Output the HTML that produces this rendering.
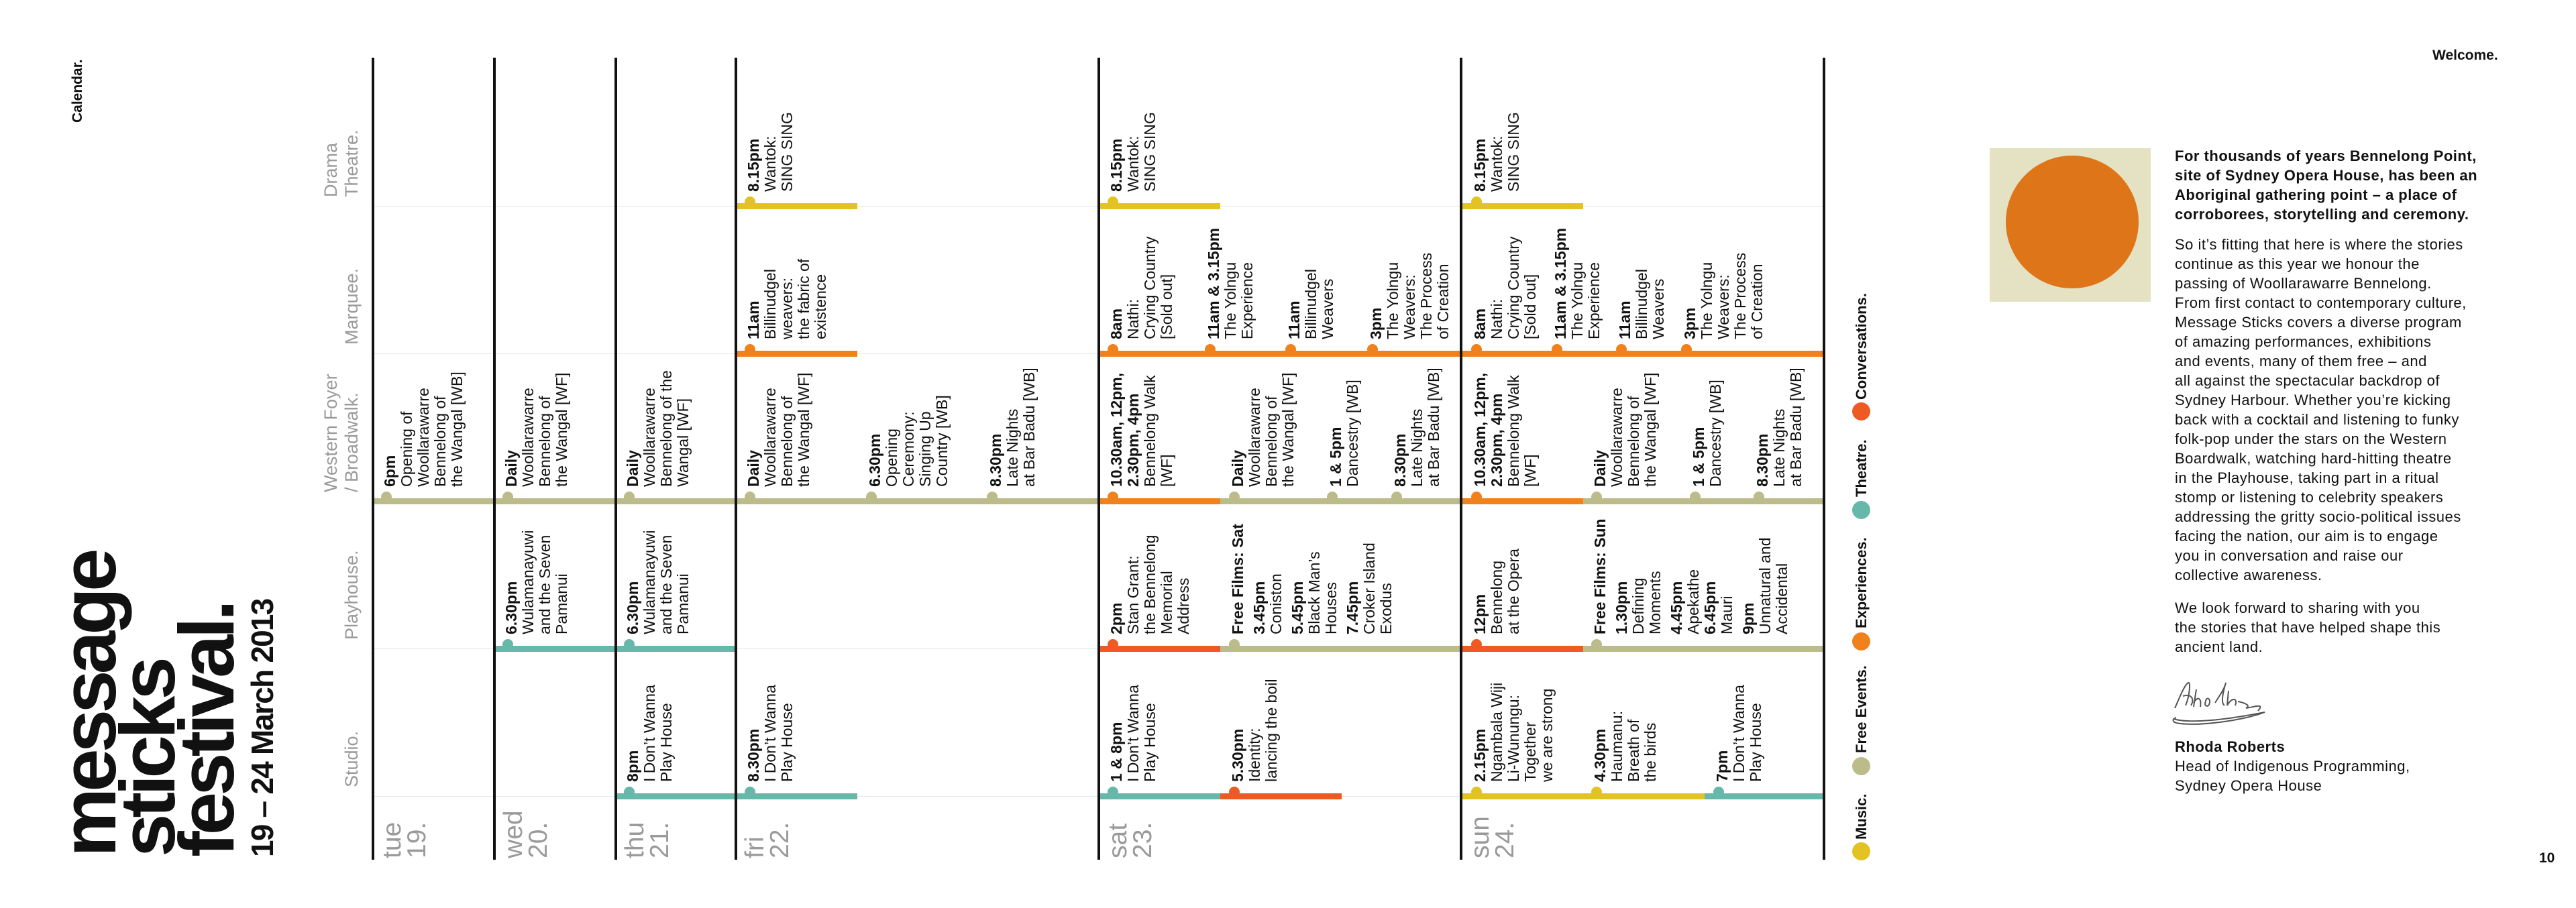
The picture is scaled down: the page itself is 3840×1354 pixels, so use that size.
<!DOCTYPE html>
<html><head><meta charset="utf-8">
<style>
html,body{margin:0;padding:0;background:#fff;}
#page{position:relative;width:3840px;height:1354px;overflow:hidden;background:#fff;font-family:"Liberation Sans",Arial,sans-serif;color:#111;}
.rot{position:absolute;transform-origin:0 0;transform:rotate(-90deg);white-space:nowrap;}
.ev{font-size:23px;line-height:25px;color:#111;}
.ev b{font-weight:bold;}
.gap{display:block;height:7px;}
.venue{font-size:27px;line-height:31px;color:#9a9a9a;}
.dayl{font-size:39px;line-height:37px;color:#9a9a9a;}
.vline{position:absolute;width:4px;background:#111;}
.hline{position:absolute;height:1px;background:#e6e6e6;}
.bar{position:absolute;height:9px;}
.dot{position:absolute;width:16px;height:16px;border-radius:50%;}
.body{position:absolute;left:3242px;width:560px;font-size:22px;line-height:29px;letter-spacing:0.5px;color:#111;white-space:nowrap;}
</style></head>
<body>
<div id="page">
  <div class="rot" style="left:105px;top:183px;font-size:21px;line-height:22px;font-weight:bold;">Calendar.</div>
  <div class="rot" style="left:88px;top:1278px;font-size:116px;line-height:88px;font-weight:bold;letter-spacing:-6px;">message<br>sticks<br>festival.</div>
  <div class="rot" style="left:368px;top:1278px;font-size:46px;line-height:46px;font-weight:bold;letter-spacing:-1.8px;">19 – 24 March 2013</div>

  <div id="grid"></div>

  <div>
    <div class="dot" style="left:2761px;top:1256px;width:27px;height:27px;background:#e3c321"></div>
    <div class="rot" style="left:2763px;top:1252px;font-size:22px;line-height:24px;font-weight:bold;">Music.</div>
    <div class="dot" style="left:2761px;top:1129px;width:27px;height:27px;background:#bcbb8a"></div>
    <div class="rot" style="left:2763px;top:1123px;font-size:22px;line-height:24px;font-weight:bold;">Free Events.</div>
    <div class="dot" style="left:2761px;top:943px;width:27px;height:27px;background:#f0821e"></div>
    <div class="rot" style="left:2763px;top:937px;font-size:22px;line-height:24px;font-weight:bold;">Experiences.</div>
    <div class="dot" style="left:2761px;top:747px;width:27px;height:27px;background:#66b8ab"></div>
    <div class="rot" style="left:2763px;top:741px;font-size:22px;line-height:24px;font-weight:bold;">Theatre.</div>
    <div class="dot" style="left:2761px;top:600px;width:27px;height:27px;background:#ef5a24"></div>
    <div class="rot" style="left:2763px;top:596px;font-size:22px;line-height:24px;font-weight:bold;">Conversations.</div>
  </div>

  <div style="position:absolute;left:3626px;top:72px;font-size:21px;line-height:21px;font-weight:bold;">Welcome.</div>
  <svg style="position:absolute;left:2966px;top:221px;" width="240" height="229">
    <rect width="240" height="229" fill="#e4e2c3"/>
    <ellipse cx="123" cy="110" rx="99" ry="99" fill="#de7619"/>
  </svg>
  <div class="body" style="top:218px;font-weight:bold;">For thousands of years Bennelong Point,<br>site of Sydney Opera House, has been an<br>Aboriginal gathering point – a place of<br>corroborees, storytelling and ceremony.</div>
  <div class="body" style="top:350px;">So it’s fitting that here is where the stories<br>continue as this year we honour the<br>passing of Woollarawarre Bennelong.<br>From first contact to contemporary culture,<br>Message Sticks covers a diverse program<br>of amazing performances, exhibitions<br>and events, many of them free – and<br>all against the spectacular backdrop of<br>Sydney Harbour. Whether you’re kicking<br>back with a cocktail and listening to funky<br>folk-pop under the stars on the Western<br>Boardwalk, watching hard-hitting theatre<br>in the Playhouse, taking part in a ritual<br>stomp or listening to celebrity speakers<br>addressing the gritty socio-political issues<br>facing the nation, our aim is to engage<br>you in conversation and raise our<br>collective awareness.</div>
  <div class="body" style="top:892px;">We look forward to sharing with you<br>the stories that have helped shape this<br>ancient land.</div>
  <svg style="position:absolute;left:3236px;top:1008px;" width="160" height="80" fill="none" stroke="#555" stroke-width="2">
    <path d="M6 48 C14 30 20 14 26 10 C30 8 28 30 22 44 M18 30 C30 26 36 34 30 44 M38 20 L34 46 M34 40 C40 30 46 32 44 46 M52 38 C48 46 58 48 58 38 C58 32 52 32 52 38 M66 40 C72 30 80 20 82 10 C78 24 74 40 80 44 M86 22 L84 44 C92 30 100 34 96 44 M100 38 C110 40 120 44 112 48 C126 46 140 40 130 52"/>
    <path d="M4 64 C30 72 90 64 140 54 C110 66 40 76 8 70 C2 68 2 64 8 62"/>
  </svg>
  <div class="body" style="top:1099px;"><b>Rhoda Roberts</b><br>Head of Indigenous Programming,<br>Sydney Opera House</div>
  <div style="position:absolute;left:3785px;top:1269px;font-size:21px;line-height:21px;font-weight:bold;">10</div>
</div>

<script>
const dayNames = ['tue','wed','thu','fri','sat','sun'];
const dayNums = ['19.','20.','21.','22.','23.','24.'];
const dayX = [556, 737, 918, 1097, 1638, 2178, 2719];
const venues = ['Drama<br>Theatre.','Marquee.','Western Foyer<br>/ Broadwalk.','Playhouse.','Studio.'];
const rowY = [307, 527, 747, 967, 1187];
const COLORS = {Y:'#e3c321', O:'#bcbb8a', R:'#f0821e', T:'#66b8ab', C:'#ef5a24'};

const bars = [
  [556,737,2,'O'],
  [737,918,2,'O'],[737,918,3,'T'],
  [918,1097,2,'O'],[918,1097,3,'T'],[918,1097,4,'T'],
  [1097,1278,0,'Y'],[1097,1278,1,'R'],[1097,1638,2,'O'],[1097,1278,4,'T'],
  [1638,1819,0,'Y'],[1638,2178,1,'R'],[1638,1819,2,'R'],[1819,2178,2,'O'],[1638,1819,3,'C'],[1819,2178,3,'O'],[1638,1819,4,'T'],[1819,2000,4,'C'],
  [2178,2360,0,'Y'],[2178,2719,1,'R'],[2178,2360,2,'R'],[2360,2719,2,'O'],[2178,2360,3,'C'],[2360,2719,3,'O'],[2178,2541,4,'Y'],[2541,2719,4,'T']
];

const events = [
  [569,2,'O',['*6pm','Opening of','Woollarawarre','Bennelong of','the Wangal [WB]']],
  [750,2,'O',['*Daily','Woollarawarre','Bennelong of','the Wangal [WF]']],
  [750,3,'T',['*6.30pm','Wulamanayuwi','and the Seven','Pamanui']],
  [931,2,'O',['*Daily','Woollarawarre','Bennelong of the','Wangal [WF]']],
  [931,3,'T',['*6.30pm','Wulamanayuwi','and the Seven','Pamanui']],
  [931,4,'T',['*8pm',"I Don’t Wanna",'Play House']],
  [1111,0,'Y',['*8.15pm','Wantok:','SING SING']],
  [1111,1,'R',['*11am','Billinudgel','weavers:','the fabric of','existence']],
  [1111,2,'O',['*Daily','Woollarawarre','Bennelong of','the Wangal [WF]']],
  [1292,2,'O',['*6.30pm','Opening','Ceremony:','Singing Up','Country [WB]']],
  [1472,2,'O',['*8.30pm','Late Nights','at Bar Badu [WB]']],
  [1111,4,'T',['*8.30pm',"I Don’t Wanna",'Play House']],
  [1652,0,'Y',['*8.15pm','Wantok:','SING SING']],
  [1652,1,'R',['*8am','Nathi:','Crying Country','[Sold out]']],
  [1797,1,'R',['*11am & 3.15pm','The Yolngu','Experience']],
  [1917,1,'R',['*11am','Billinudgel','Weavers']],
  [2039,1,'R',['*3pm','The Yolngu','Weavers:','The Process','of Creation']],
  [1652,2,'R',['*10.30am, 12pm,','*2.30pm, 4pm','Bennelong Walk','[WF]']],
  [1833,2,'O',['*Daily','Woollarawarre','Bennelong of','the Wangal [WF]']],
  [1979,2,'O',['*1 & 5pm','Dancestry [WB]']],
  [2075,2,'O',['*8.30pm','Late Nights','at Bar Badu [WB]']],
  [1652,3,'C',['*2pm','Stan Grant:','the Bennelong','Memorial','Address']],
  [1833,3,'O',['*Free Films: Sat','|*3.45pm','Coniston','|*5.45pm',"Black Man’s",'Houses','|*7.45pm','Croker Island','Exodus']],
  [1652,4,'T',['*1 & 8pm',"I Don’t Wanna",'Play House']],
  [1833,4,'C',['*5.30pm','Identity:','lancing the boil']],
  [2194,0,'Y',['*8.15pm','Wantok:','SING SING']],
  [2194,1,'R',['*8am','Nathi:','Crying Country','[Sold out]']],
  [2314,1,'R',['*11am & 3.15pm','The Yolngu','Experience']],
  [2410,1,'R',['*11am','Billinudgel','Weavers']],
  [2507,1,'R',['*3pm','The Yolngu','Weavers:','The Process','of Creation']],
  [2194,2,'R',['*10.30am, 12pm,','*2.30pm, 4pm','Bennelong Walk','[WF]']],
  [2373,2,'O',['*Daily','Woollarawarre','Bennelong of','the Wangal [WF]']],
  [2520,2,'O',['*1 & 5pm','Dancestry [WB]']],
  [2615,2,'O',['*8.30pm','Late Nights','at Bar Badu [WB]']],
  [2194,3,'C',['*12pm','Bennelong','at the Opera']],
  [2373,3,'O',['*Free Films: Sun','|*1.30pm','Defining','Moments','|*4.45pm','Apekathe','*6.45pm','Mauri','|*9pm','Unnatural and','Accidental']],
  [2194,4,'Y',['*2.15pm','Ngambala Wiji','Li-Wunungu:','Together','we are strong']],
  [2373,4,'Y',['*4.30pm','Haumanu:','Breath of','the birds']],
  [2555,4,'T',['*7pm',"I Don’t Wanna",'Play House']]
];

const grid = document.getElementById('grid');
function add(el){ grid.appendChild(el); return el; }

rowY.forEach((y,i)=>{
  const l = document.createElement('div');
  l.className='hline';
  
  
  l.style.left=dayX[0]+'px'; l.style.width=(dayX[6]-dayX[0])+'px'; l.style.top=y+'px';
  add(l);
  const v = document.createElement('div');
  v.className='rot venue';
  
  
  const nl = venues[i].split('<br>').length;
  v.style.left=(509-(nl-1)*31)+'px'; v.style.top=(y-13)+'px';
  v.innerHTML=venues[i];
  add(v);
});

bars.forEach(b=>{
  const el=document.createElement('div');
  el.className='bar';
  
  
  el.style.left=b[0]+'px'; el.style.width=(b[1]-b[0])+'px';
  el.style.top=(rowY[b[2]]-4)+'px'; el.style.background=COLORS[b[3]];
  add(el);
});

dayX.forEach((x,i)=>{
  const l=document.createElement('div');
  l.className='vline';
  
  
  l.style.left=(x-2)+'px'; l.style.top='86px'; l.style.height='1196px';
  add(l);
  if(i<dayNames.length){
    const d=document.createElement('div');
    d.className='rot dayl';
    
    
    d.style.left=(x+10)+'px'; d.style.top='1280px';
    d.innerHTML=dayNames[i]+'<br>'+dayNums[i];
    add(d);
  }
});

events.forEach(e=>{
  const y=rowY[e[1]];
  const dot=document.createElement('div');
  dot.className='dot';
  
  
  dot.style.left=(e[0]-1)+'px'; dot.style.top=(y-14)+'px'; dot.style.background=COLORS[e[2]];
  add(dot);
  const t=document.createElement('div');
  t.className='rot ev';
  
  
  t.style.left=e[0]+'px'; t.style.top=(y-21)+'px';
  t.innerHTML=e[3].map(s=>{
    let gap='';
    if(s[0]==='|'){gap='<span class="gap"></span>';s=s.slice(1);}
    return gap+(s[0]==='*'?'<b>'+s.slice(1)+'</b>':s);
  }).join('<br>');
  add(t);
});
</script>
</body></html>
